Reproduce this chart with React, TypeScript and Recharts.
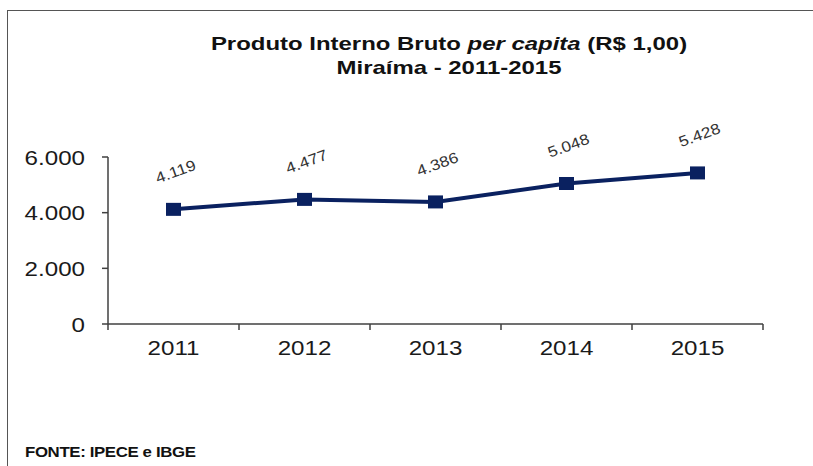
import { LineChart, Line, XAxis, YAxis, LabelList } from 'recharts';

const years = ['2011', '2012', '2013', '2014', '2015'];
const pibPerCapita = [4119, 4477, 4386, 5048, 5428];
const yTicks = [0, 2000, 4000, 6000];

const data = years.map((year, i) => ({ year, value: pibPerCapita[i] }));

const W = 813;
const H = 466;
const margin = { top: 157, right: 50, left: 48, bottom: 112 };
const yAxisWidth = 60;
const plotWidth = W - margin.left - margin.right - yAxisWidth;
const halfBand = plotWidth / years.length / 2;

const navy = '#0a2160';
const font = '"Liberation Sans", Arial, sans-serif';
const stretch = 1.15;

// brazilian thousands separator
const fmt = (v: number) => String(v).replace(/\B(?=(\d{3})+(?!\d))/g, '.');

const YTick = ({ x, y, payload }: any) => (
  <g transform={`translate(${x},${y}) scale(${stretch},1)`}>
    <text x={0} y={0} dy="0.36em" textAnchor="end" fontSize={21} fontFamily={font} fill="#1a1a1a">
      {fmt(payload.value)}
    </text>
  </g>
);

const XTick = ({ x, y, payload, index }: any) => (
  <g>
    {index === 0 && <line x1={x - halfBand} x2={x - halfBand} y1={y - 6} y2={y} stroke="#404040" strokeWidth={1.5} />}
    <line x1={x + halfBand} x2={x + halfBand} y1={y - 6} y2={y} stroke="#404040" strokeWidth={1.5} />
    <g transform={`translate(${x},${y + 10}) scale(${stretch},1)`}>
      <text x={0} y={0} dy="0.72em" textAnchor="middle" fontSize={21} fontFamily={font} fill="#1a1a1a">
        {payload.value}
      </text>
    </g>
  </g>
);

const SquareDot = ({ cx, cy }: any) => (
  <rect x={cx - 7.5} y={cy - 6.5} width={15} height={13} fill={navy} />
);

const ValueLabel = ({ x, y, value }: any) => (
  <g transform={`translate(${x + 2},${y - 38}) rotate(-20) scale(${stretch},1)`}>
    <text x={0} y={0} dy="0.35em" textAnchor="middle" fontSize={15} fontFamily={font} fill="#333">
      {fmt(value)}
    </text>
  </g>
);

export default function App() {
  return (
    <div style={{ position: 'absolute', left: 0, top: 0, width: W, height: H, background: '#fff', overflow: 'hidden' }}>
      <div style={{ position: 'absolute', left: 7, top: 10, width: W, height: H, borderTop: '1.5px solid #555', borderLeft: '1.5px solid #555' }} />
      <div
        style={{
          position: 'absolute', left: 449, top: 32, transform: `translateX(-50%) scaleX(1.26)`,
          fontFamily: font, fontWeight: 'bold', fontSize: 19, lineHeight: '24px', textAlign: 'center',
          whiteSpace: 'nowrap', color: '#111',
        }}
      >
        <div>Produto Interno Bruto <i>per capita</i> (R$ 1,00)</div>
        <div>Miraíma - 2011-2015</div>
      </div>
      <div
        style={{
          position: 'absolute', left: 25, top: 444, transform: 'scaleX(1.2)', transformOrigin: 'left',
          fontFamily: font, fontWeight: 'bold', fontSize: 14, letterSpacing: '-0.3px', color: '#111', whiteSpace: 'nowrap',
        }}
      >
        FONTE: IPECE e IBGE
      </div>
      <LineChart width={W} height={H} data={data} margin={margin} style={{ position: 'absolute', left: 0, top: 0 }}>
        <XAxis
          dataKey="year"
          scale="band"
          height={30}
          tickLine={false}
          tickSize={6}
          tickMargin={0}
          axisLine={{ stroke: '#404040', strokeWidth: 1.5 }}
          tick={<XTick />}
          interval={0}
        />
        <YAxis
          width={yAxisWidth}
          domain={[0, 6000]}
          ticks={yTicks}
          tickSize={6}
          tickMargin={17}
          axisLine={{ stroke: '#404040', strokeWidth: 1.5 }}
          tickLine={{ stroke: '#404040', strokeWidth: 1.5 }}
          tick={<YTick />}
          interval={0}
        />
        <Line
          type="linear"
          dataKey="value"
          stroke={navy}
          strokeWidth={4}
          dot={<SquareDot />}
          activeDot={false}
          isAnimationActive={false}
        >
          <LabelList dataKey="value" content={<ValueLabel />} />
        </Line>
      </LineChart>
    </div>
  );
}
